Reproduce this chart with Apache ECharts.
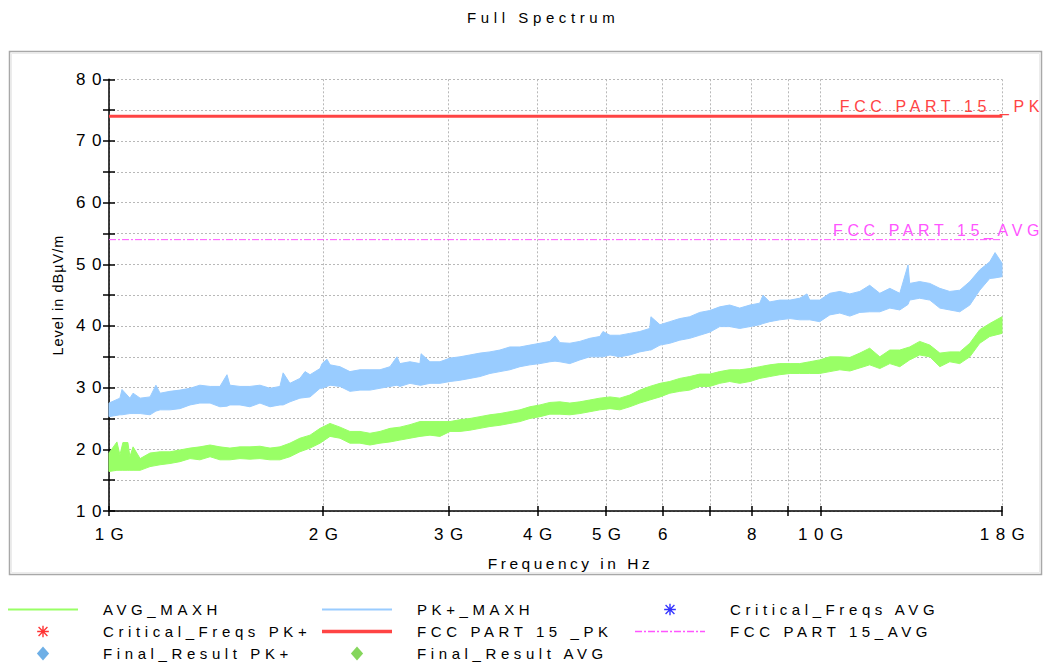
<!DOCTYPE html>
<html>
<head>
<meta charset="utf-8">
<script src="https://cdn.jsdelivr.net/npm/echarts@6/dist/echarts.min.js"></script>
<style>
html, body { margin: 0; padding: 0; background: #fff; }
#c { width: 1049px; height: 664px; }
#c svg text[style*="17px"] { letter-spacing: 6.5px; }
#c svg text[style*="16px"] { letter-spacing: 4.6px; }
#c svg text[style*="15px"] { letter-spacing: 4.6px; }
#c svg text[style*="15.5px"] { letter-spacing: 3.5px; }
#c svg text[style*="14.5px"] { letter-spacing: 1px; }
</style>
</head>
<body>
<div id="c"></div>
<script>
// ---------- data (frequencies in GHz, levels in dBµV/m) ----------
const xTickVals = [1, 2, 3, 4, 5, 6, 7, 8, 9, 10, 18];
const xLabelVals = [1, 2, 3, 4, 5, 6, 8, 10, 18];
const xLabelText = ['1G', '2G', '3G', '4G', '5G', '6', '8', '10G', '18G'];
const yLabelVals = [10, 20, 30, 40, 50, 60, 70, 80];

const limitFreq = [1, 18];
const pkLimit = [74, 74];
const avgLimit = [54, 54];

// PK+_MAXH trace, read as lower / upper envelope of the noisy band
const pkFreq = [1.000, 1.036, 1.043, 1.070, 1.081, 1.106, 1.142, 1.164, 1.180, 1.218, 1.258, 1.300, 1.342, 1.387, 1.432, 1.465, 1.479, 1.528, 1.578, 1.630, 1.684, 1.739, 1.757, 1.796, 1.855, 1.886, 1.917, 1.980, 1.993, 2.025, 2.045, 2.112, 2.181, 2.253, 2.327, 2.404, 2.483, 2.540, 2.564, 2.649, 2.736, 2.746, 2.826, 2.919, 3.016, 3.114, 3.216, 3.322, 3.431, 3.544, 3.660, 3.781, 3.905, 4.035, 4.166, 4.236, 4.303, 4.444, 4.590, 4.741, 4.897, 4.947, 5.061, 5.224, 5.395, 5.573, 5.756, 5.778, 5.950, 6.141, 6.343, 6.551, 6.767, 6.989, 7.219, 7.456, 7.702, 7.962, 8.217, 8.305, 8.487, 8.766, 9.065, 9.352, 9.576, 9.660, 9.977, 10.31, 10.65, 11.00, 11.36, 11.73, 12.12, 12.52, 12.93, 13.28, 13.35, 13.79, 14.25, 14.72, 15.20, 15.70, 16.22, 16.75, 17.30, 17.60, 18.00];
const pkLo = [25.3, 25.6, 25.6, 25.8, 25.8, 25.8, 25.6, 26.2, 26.4, 26.4, 26.6, 27.2, 27.5, 27.5, 26.9, 27.0, 27.2, 27.2, 26.9, 27.5, 26.9, 27.2, 27.2, 27.7, 28.3, 28.4, 28.5, 29.9, 29.9, 30.2, 30.4, 30.2, 29.4, 29.6, 29.6, 29.9, 30.2, 30.4, 30.2, 30.7, 30.4, 30.4, 30.7, 30.7, 31.0, 31.2, 31.5, 31.8, 32.3, 32.6, 32.9, 33.4, 33.7, 33.9, 34.2, 34.3, 34.2, 33.9, 34.5, 35.0, 35.0, 35.0, 35.3, 35.0, 35.3, 35.8, 36.1, 36.1, 36.9, 37.2, 37.7, 38.0, 38.5, 39.0, 39.9, 39.9, 39.6, 39.9, 40.2, 40.4, 40.7, 41.0, 41.2, 41.0, 41.0, 41.0, 40.7, 41.8, 42.1, 41.6, 42.2, 42.3, 42.3, 42.9, 42.6, 43.5, 44.2, 44.5, 44.2, 42.9, 42.6, 42.3, 43.4, 45.8, 47.7, 47.8, 48.0];
const pkHi = [27.5, 28.3, 29.7, 28.3, 29.1, 28.3, 28.5, 30.4, 29.1, 29.4, 29.6, 29.9, 30.4, 30.2, 30.2, 32.1, 30.4, 30.2, 30.2, 30.4, 29.9, 30.2, 32.4, 30.7, 31.5, 32.6, 32.1, 33.1, 33.9, 34.6, 33.7, 33.4, 32.6, 32.9, 32.9, 32.9, 33.4, 35.0, 33.9, 34.2, 33.9, 35.5, 34.2, 34.2, 34.8, 35.0, 35.3, 35.6, 35.8, 36.1, 36.6, 36.6, 36.9, 37.2, 37.5, 38.4, 37.3, 37.2, 37.5, 38.0, 38.3, 39.1, 38.5, 38.5, 38.8, 39.1, 39.6, 41.5, 40.2, 40.7, 41.2, 41.5, 42.2, 42.5, 43.1, 43.4, 42.9, 43.4, 43.7, 45.0, 43.9, 44.2, 44.2, 44.5, 45.2, 44.2, 44.2, 45.3, 45.6, 45.2, 45.6, 46.6, 45.3, 46.1, 45.3, 49.9, 46.9, 47.2, 46.9, 46.1, 45.6, 45.8, 47.2, 49.1, 50.4, 51.9, 50.2];

// AVG_MAXH trace, read as lower / upper envelope of the noisy band
const avgFreq = [1.000, 1.026, 1.036, 1.046, 1.063, 1.070, 1.081, 1.106, 1.142, 1.180, 1.218, 1.258, 1.300, 1.342, 1.387, 1.432, 1.479, 1.528, 1.578, 1.630, 1.684, 1.739, 1.796, 1.855, 1.917, 1.980, 2.045, 2.112, 2.181, 2.253, 2.327, 2.404, 2.483, 2.564, 2.649, 2.736, 2.826, 2.919, 3.016, 3.114, 3.216, 3.322, 3.431, 3.544, 3.660, 3.781, 3.905, 4.035, 4.166, 4.303, 4.444, 4.590, 4.741, 4.897, 5.061, 5.224, 5.395, 5.573, 5.756, 5.950, 6.141, 6.343, 6.551, 6.767, 6.989, 7.219, 7.456, 7.702, 7.962, 8.217, 8.487, 8.766, 9.065, 9.352, 9.660, 9.977, 10.31, 10.65, 11.00, 11.36, 11.73, 12.12, 12.52, 12.93, 13.35, 13.79, 14.25, 14.72, 15.20, 15.70, 16.22, 16.75, 17.30, 18.00];
const avgLo = [16.4, 16.6, 16.6, 16.6, 16.6, 16.6, 16.6, 16.6, 17.2, 17.5, 17.7, 18.0, 18.5, 18.3, 18.8, 18.3, 18.3, 18.5, 18.4, 18.5, 18.3, 18.3, 18.8, 19.6, 20.2, 21.0, 22.1, 21.8, 21.0, 21.0, 20.7, 21.0, 21.2, 21.5, 21.8, 22.1, 22.3, 22.1, 22.9, 22.9, 23.1, 23.4, 23.7, 23.9, 24.2, 24.5, 25.0, 25.3, 25.7, 25.7, 25.6, 25.8, 26.1, 26.4, 26.6, 26.4, 26.9, 27.5, 28.0, 28.5, 29.1, 29.4, 29.6, 30.2, 30.2, 30.7, 31.0, 30.7, 31.0, 31.5, 31.8, 32.1, 32.3, 32.3, 32.3, 32.3, 32.6, 32.9, 32.7, 33.2, 33.7, 33.1, 33.9, 33.4, 34.5, 35.3, 35.0, 33.4, 34.2, 33.9, 35.0, 37.2, 38.3, 38.8];
const avgHi = [19.4, 21.2, 19.1, 21.1, 21.1, 18.8, 20.4, 18.5, 19.4, 19.6, 19.6, 19.9, 20.2, 20.4, 20.7, 20.4, 20.2, 20.4, 20.4, 20.5, 20.2, 20.4, 21.0, 21.8, 22.3, 23.4, 24.2, 23.6, 22.9, 22.9, 22.6, 22.9, 23.4, 23.6, 24.0, 24.5, 24.5, 24.5, 24.5, 24.8, 25.0, 25.3, 25.6, 25.8, 26.1, 26.4, 26.9, 27.2, 27.6, 27.7, 27.5, 27.7, 28.0, 28.3, 28.5, 28.3, 28.8, 29.6, 30.2, 30.7, 31.0, 31.5, 31.8, 32.2, 32.2, 32.6, 32.9, 32.9, 33.1, 33.4, 33.7, 33.9, 33.9, 33.9, 34.2, 34.5, 35.0, 35.0, 34.9, 35.6, 36.4, 35.0, 36.1, 36.1, 36.6, 37.5, 36.9, 35.6, 35.8, 35.8, 37.2, 39.4, 40.4, 41.5];

// ---------- styling ----------
const FONT = "'Liberation Sans', Arial, sans-serif";
const AX = { color: '#000', width: 1.5 };
const GRIDLINE = { color: '#b8b8b8', width: 1, type: [2, 2] };
const C_AVG = '#99ff66';
const C_PK = '#99ccff';
const C_PKLIM = '#ff4444';
const C_AVGLIM = '#ff55ff';
const ASTERISK = 'path://M-1 -1ZM11 11ZM4.4 0H5.6V10H4.4ZM0 4.4H10V5.6H0ZM0.8 1.6L1.6 0.8L9.2 8.4L8.4 9.2ZM8.4 0.8L9.2 1.6L1.6 9.2L0.8 8.4Z';
const DIAMOND = 'path://M7 0L14 8L7 16L0 8Z';
const THINLINE = 'path://M0 0H70V1.8H0Z';
const THICKLINE = 'path://M0 0H70V3.6H0Z';
function dashDotIcon() {
  let d = '';
  for (let x = 0; x < 70; x += 13) {
    d += 'M' + x + ' 0H' + Math.min(x + 7, 70) + 'V1.3H' + x + 'Z';
    if (x + 9 < 70) d += 'M' + (x + 9) + ' 0H' + Math.min(x + 11, 70) + 'V1.3H' + (x + 9) + 'Z';
  }
  return 'path://' + d;
}

function bandSeries(name, freq, lo, hi, color) {
  return {
    name: name,
    type: 'custom',
    coordinateSystem: 'cartesian2d',
    data: freq.map((f, i) => [f, lo[i], hi[i]]),
    encode: { x: 0, y: [1, 2] },
    itemStyle: { color: color },
    z: 3,
    renderItem: function (params, api) {
      if (params.dataIndex !== 0) return null;
      const pts = [];
      for (let i = 0; i < freq.length; i++) pts.push(api.coord([freq[i], hi[i]]));
      for (let i = freq.length - 1; i >= 0; i--) pts.push(api.coord([freq[i], lo[i]]));
      return { type: 'polygon', shape: { points: pts }, style: { fill: color, stroke: color, lineWidth: 1 } };
    }
  };
}

function xLabel(v) {
  const i = xLabelVals.findIndex(t => Math.abs(t - v) < 1e-6 * t);
  return i >= 0 ? xLabelText[i] : '';
}

const xBase = { type: 'log', logBase: 10, min: 1, max: 18, gridIndex: 0, position: 'bottom' };
const yBase = { type: 'value', min: 10, max: 80, interval: 5, gridIndex: 0, position: 'left' };

const legendCommon = {
  orient: 'vertical', top: 602, itemWidth: 70, itemHeight: 14, itemGap: 7, padding: 0,
  selectedMode: false,
  textStyle: { fontSize: 15, color: '#000', fontFamily: FONT, padding: [0, 0, 0, 20] }
};

const option = {
  animation: false,
  backgroundColor: '#fff',
  title: {
    text: 'Full Spectrum', left: 467, top: 10, padding: 0,
    textStyle: { fontSize: 15, fontWeight: 'normal', color: '#000', fontFamily: FONT }
  },
  graphic: [
    { type: 'rect', shape: { x: 9.5, y: 51.5, width: 1032, height: 523 }, style: { fill: 'none', stroke: '#a8a8a8', lineWidth: 1.5 }, z: -10 },
    { type: 'rect', shape: { x: 11.5, y: 53.5, width: 1028, height: 519 }, style: { fill: 'none', stroke: '#ececec', lineWidth: 1 }, z: -10 }
  ],
  grid: { left: 109, top: 79.3, width: 893, height: 431.7, containLabel: false, outerBoundsMode: 'none' },
  xAxis: [
    Object.assign({}, xBase, {
      axisLine: { show: true, onZero: false, lineStyle: AX },
      axisTick: { show: true, inside: false, length: 5, customValues: xTickVals, lineStyle: AX },
      axisLabel: { show: true, customValues: xLabelVals, formatter: xLabel, margin: 15, color: '#000', fontSize: 17, fontFamily: FONT, padding: [0, 0, 0, 7] },
      splitLine: { show: true, lineStyle: GRIDLINE },
      minorTick: { show: false }, minorSplitLine: { show: false },
      name: 'Frequency in Hz', nameLocation: 'middle', nameGap: 44, nameMoveOverlap: false,
      nameTextStyle: { fontSize: 15.5, color: '#000', fontFamily: FONT, padding: [0, 0, 0, 30] }
    }),
    Object.assign({}, xBase, {
      axisLine: { show: false },
      axisTick: { show: true, inside: true, length: 5, customValues: xTickVals, lineStyle: AX },
      axisLabel: { show: false },
      splitLine: { show: false }
    })
  ],
  yAxis: [
    Object.assign({}, yBase, {
      axisLine: { show: true, onZero: false, lineStyle: AX },
      axisTick: { show: true, inside: false, length: 6, lineStyle: AX },
      axisLabel: { show: true, customValues: yLabelVals, margin: 1, color: '#000', fontSize: 17, fontFamily: FONT },
      splitLine: { show: true, lineStyle: GRIDLINE },
      name: 'Level in dBµV/m', nameLocation: 'middle', nameGap: 44, nameMoveOverlap: false,
      nameTextStyle: { fontSize: 14.5, color: '#000', fontFamily: FONT }
    }),
    Object.assign({}, yBase, {
      axisLine: { show: false },
      axisTick: { show: true, inside: true, length: 6, lineStyle: AX },
      axisLabel: { show: false },
      splitLine: { show: false }
    })
  ],
  legend: [
    Object.assign({}, legendCommon, { left: 8, data: [
      { name: 'AVG_MAXH', icon: THINLINE },
      { name: 'Critical_Freqs PK+' },
      { name: 'Final_Result PK+' }
    ] }),
    Object.assign({}, legendCommon, { left: 322, data: [
      { name: 'PK+_MAXH', icon: THINLINE },
      { name: 'FCC PART 15 _PK', icon: THICKLINE },
      { name: 'Final_Result AVG' }
    ] }),
    Object.assign({}, legendCommon, { left: 635, data: [
      { name: 'Critical_Freqs AVG' },
      { name: 'FCC PART 15_AVG', icon: dashDotIcon() }
    ] })
  ],
  series: [
    bandSeries('PK+_MAXH', pkFreq, pkLo, pkHi, C_PK),
    bandSeries('AVG_MAXH', avgFreq, avgLo, avgHi, C_AVG),
    {
      name: 'FCC PART 15 _PK', type: 'line', clip: false, z: 5,
      data: limitFreq.map((f, i) => [f, pkLimit[i]]),
      symbol: 'none', lineStyle: { color: C_PKLIM, width: 3 }, itemStyle: { color: C_PKLIM },
      endLabel: { show: true, formatter: '{a}', color: C_PKLIM, fontSize: 16, fontFamily: FONT, align: 'right', verticalAlign: 'bottom', distance: 42, padding: [0, 0, 2, 0] }
    },
    {
      name: 'FCC PART 15_AVG', type: 'line', clip: false, z: 5,
      data: limitFreq.map((f, i) => [f, avgLimit[i]]),
      symbol: 'none', lineStyle: { color: C_AVGLIM, width: 1, type: [7, 2, 2, 2] }, itemStyle: { color: C_AVGLIM },
      endLabel: { show: true, formatter: '{a}', color: C_AVGLIM, fontSize: 16, fontFamily: FONT, align: 'right', verticalAlign: 'bottom', distance: 42, padding: [0, 0, 1, 0] }
    },
    { name: 'Critical_Freqs AVG', type: 'scatter', data: [], symbol: ASTERISK, itemStyle: { color: '#0000ff' } },
    { name: 'Critical_Freqs PK+', type: 'scatter', data: [], symbol: ASTERISK, itemStyle: { color: '#ff0000' } },
    { name: 'Final_Result PK+', type: 'scatter', data: [], symbol: DIAMOND, itemStyle: { color: '#4a9be0' } },
    { name: 'Final_Result AVG', type: 'scatter', data: [], symbol: DIAMOND, itemStyle: { color: '#66cc33' } }
  ]
};

const chart = echarts.init(document.getElementById('c'), null, { renderer: 'svg' });
chart.setOption(option);
</script>
</body>
</html>
